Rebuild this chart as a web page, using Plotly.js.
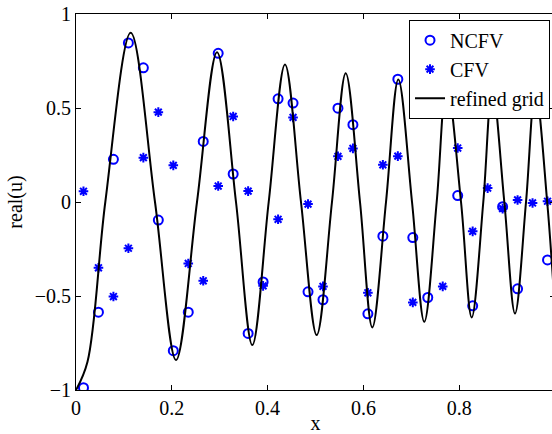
<!DOCTYPE html>
<html>
<head>
<meta charset="utf-8">
<script src="https://cdn.plot.ly/plotly-3.0.1.min.js"></script>
<style>
html,body{margin:0;padding:0;overflow:hidden;background:#fff;}
#chart{width:555px;height:434px;}
</style>
</head>
<body>
<div id="chart"></div>
<script>
// cell-centre grid positions (32 cells)
var xGrid = [0.015625, 0.046875, 0.078125, 0.109375, 0.140625, 0.171875, 0.203125, 0.234375,
             0.265625, 0.296875, 0.328125, 0.359375, 0.390625, 0.421875, 0.453125, 0.484375,
             0.515625, 0.546875, 0.578125, 0.609375, 0.640625, 0.671875, 0.703125, 0.734375,
             0.765625, 0.796875, 0.828125, 0.859375, 0.890625, 0.921875, 0.953125, 0.984375];

var ncfv = [-0.988, -0.586, 0.227, 0.846, 0.714, -0.096, -0.791, -0.586,
            0.322, 0.791, 0.149, -0.699, -0.425, 0.549, 0.526, -0.478,
            -0.520, 0.499, 0.411, -0.595, -0.182, 0.653, -0.189, -0.508,
            0.549, 0.034, -0.552, 0.510, -0.025, -0.462, 0.565, -0.308];

var cfv = [0.057, -0.350, -0.503, -0.246, 0.236, 0.478, 0.195, -0.327,
           -0.419, 0.085, 0.455, 0.058, -0.446, -0.092, 0.450, -0.011,
           -0.449, 0.243, 0.285, -0.483, 0.198, 0.244, -0.534, 0.560,
           -0.449, 0.287, -0.156, 0.074, -0.035, 0.011, -0.005, 0.004];

// refined-grid solution, read at extrema and zero crossings
var xRef = [0, 0.024, 0.0612, 0.1142, 0.1649, 0.2088, 0.2526, 0.2944, 0.334, 0.3681,
            0.4023, 0.4363, 0.4697, 0.5025, 0.5344, 0.5631, 0.5929, 0.6186, 0.6472,
            0.6729, 0.7015, 0.7271, 0.753, 0.7739, 0.8038, 0.8261, 0.8503, 0.8691,
            0.8942, 0.9165, 0.9395, 0.9590, 0.9837, 1.0];
var uRef = [-1, -0.85, 0, 0.900, 0, -0.841, 0, 0.797, 0, -0.761,
            0, 0.731, 0, -0.708, 0, 0.685, 0, -0.667, 0,
            0.652, 0, -0.637, 0, 0.635, 0, -0.614, 0, 0.615,
            0, -0.593, 0, 0.600, 0, -0.58];

var xTicks = [0, 0.2, 0.4, 0.6, 0.8, 1];
var xTickText = ['0', '0.2', '0.4', '0.6', '0.8', '1'];
var yTicks = [-1, -0.5, 0, 0.5, 1];
var yTickText = ['\u22121', '\u22120.5', '0', '0.5', '1'];

var serif = 'Liberation Serif, Times New Roman, serif';

var traces = [
  {x: xGrid, y: ncfv, type: 'scatter', mode: 'markers', name: 'NCFV',
   marker: {symbol: 'circle-open', size: 9, color: '#0000ff', line: {width: 2, color: '#0000ff'}}},
  {x: xGrid, y: cfv, type: 'scatter', mode: 'markers', name: 'CFV',
   marker: {symbol: 'asterisk-open', size: 8, color: '#0000ff', line: {width: 2, color: '#0000ff'}}},
  {x: xRef, y: uRef, type: 'scatter', mode: 'lines', name: 'refined grid',
   line: {color: '#000000', width: 2, shape: 'spline', smoothing: 1.0}}
];

var layout = {
  width: 555, height: 434,
  margin: {l: 76, r: 0, t: 13.5, b: 44, pad: 0},
  paper_bgcolor: '#ffffff', plot_bgcolor: '#ffffff',
  font: {family: serif, size: 20, color: '#000000'},
  showlegend: true,
  legend: {x: 0.9896, xanchor: 'right', y: 0.985, yanchor: 'top',
           bgcolor: '#ffffff', bordercolor: '#000000', borderwidth: 1,
           font: {family: serif, size: 20, color: '#000000'}, tracegroupgap: 0},
  xaxis: {range: [0, 1], tickmode: 'array', tickvals: xTicks, ticktext: xTickText,
          ticks: 'inside', ticklen: 5, tickcolor: '#000', showline: true, linecolor: '#000',
          linewidth: 1, mirror: 'ticks', showgrid: false, zeroline: false,
          tickfont: {family: serif, size: 20},
          title: {text: 'x', font: {family: serif, size: 20}, standoff: 11}},
  yaxis: {range: [-1, 1], tickmode: 'array', tickvals: yTicks, ticktext: yTickText,
          ticks: 'inside', ticklen: 5, tickcolor: '#000', showline: true, linecolor: '#000',
          linewidth: 1, mirror: 'ticks', showgrid: false, zeroline: false,
          tickfont: {family: serif, size: 20},
          title: {text: 'real(u)', font: {family: serif, size: 20}, standoff: 6}}
};

Plotly.newPlot('chart', traces, layout, {displayModeBar: false, staticPlot: true});
</script>
</body>
</html>
